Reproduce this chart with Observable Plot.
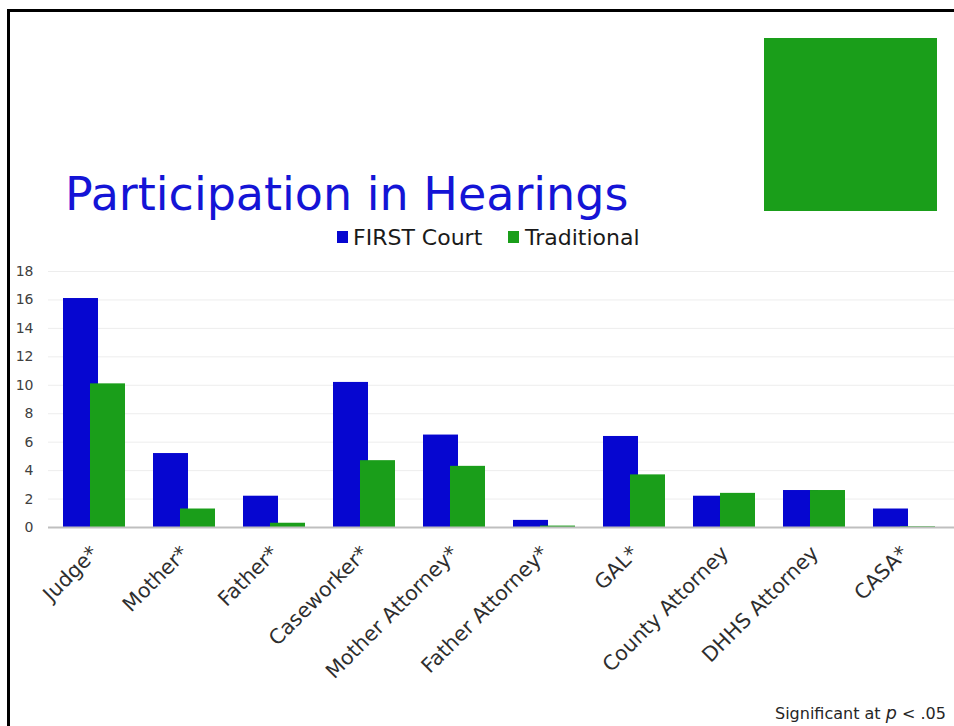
<!DOCTYPE html>
<html><head><meta charset="utf-8">
<script src="https://cdn.jsdelivr.net/npm/d3@7"></script>
<script src="https://cdn.jsdelivr.net/npm/@observablehq/plot@0.6"></script>
<style>
body{margin:0;background:#fff;}
#page{position:relative;width:954px;height:726px;overflow:hidden;font-family:"DejaVu Sans",sans-serif;background:#fff;}
#chart{position:absolute;left:0;top:0;}
#frame{position:absolute;left:7px;top:9px;width:980px;height:760px;border-left:3px solid #000;border-top:3px solid #000;pointer-events:none;}
#deco{position:absolute;left:764px;top:38px;width:173px;height:173px;background:#1a9e1a;}
#title{position:absolute;left:65px;top:171px;font-size:46px;line-height:1;color:#1414d6;white-space:nowrap;}
.leg{position:absolute;top:227px;font-size:22px;line-height:1;color:#1a1a1a;white-space:nowrap;}
.sw{position:absolute;top:231px;width:11px;height:12px;}
#note{position:absolute;left:775px;top:705px;font-size:16px;line-height:1;color:#262626;white-space:nowrap;}
#note i{font-size:17.5px;}
</style></head>
<body><div id="page">
<div id="chart"></div>
<div id="frame"></div>
<div id="deco"></div>
<div id="title">Participation in Hearings</div>
<div class="sw" id="sw0" style="left:337px;"></div><div class="leg" id="lg0" style="left:353px;"></div>
<div class="sw" id="sw1" style="left:508px;"></div><div class="leg" id="lg1" style="left:525px;"></div>
<div id="note">Significant at <i>p</i> &lt; .05</div>
</div>
<script>
const categories = ["Judge*","Mother*","Father*","Caseworker*","Mother Attorney*","Father Attorney*","GAL*","County Attorney","DHHS Attorney","CASA*"];
const firstCourt = [16.1,5.2,2.2,10.2,6.5,0.5,6.4,2.2,2.6,1.3];
const traditional = [10.1,1.3,0.3,4.7,4.3,0.1,3.7,2.4,2.6,0.05];
const seriesNames = ["FIRST Court","Traditional"];
const seriesColors = ["#0606d0","#1a9e1a"];
const yTicks = [0,2,4,6,8,10,12,14,16,18];

document.getElementById("sw0").style.background = seriesColors[0];
document.getElementById("sw1").style.background = seriesColors[1];
document.getElementById("lg0").textContent = seriesNames[0];
document.getElementById("lg1").textContent = seriesNames[1];

const blue = categories.map((c,i)=>({cat:c, value:firstCourt[i]}));
const green = categories.map((c,i)=>({cat:c, value:traditional[i]}));

const chart = Plot.plot({
  width: 954, height: 726,
  marginTop: 271, marginBottom: 199, marginLeft: 48, marginRight: 0,
  style: {fontFamily: "DejaVu Sans, sans-serif", fontSize: "14px", background: "transparent"},
  x: {domain: categories, range: [49, 949], paddingInner: 0.6111, paddingOuter: 0.3056, round: false, axis: null},
  y: {domain: [0, 18], axis: null, label: null},
  marks: [
    Plot.ruleY(yTicks.filter(d => d > 0), {stroke: "#ededed", strokeWidth: 1}),
    Plot.axisY({ticks: yTicks, tickSize: 0, tickPadding: 15, fontSize: 14, color: "#404040", label: null, tickFormat: d => String(d)}),
    Plot.barY(blue, {x: "cat", y: "value", dx: -13.5, fill: seriesColors[0]}),
    Plot.barY(green, {x: "cat", y: "value", dx: 13.5, fill: seriesColors[1]}),
    Plot.ruleY([0], {stroke: "#bfbfbf", strokeWidth: 2}),
    Plot.text(categories, {x: d => d, frameAnchor: "bottom", dx: 5, dy: 27, rotate: -45, textAnchor: "end", fontSize: 20.5, fill: "#2e2e2e"})
  ]
});
document.getElementById("chart").appendChild(chart);
</script>
</body></html>
